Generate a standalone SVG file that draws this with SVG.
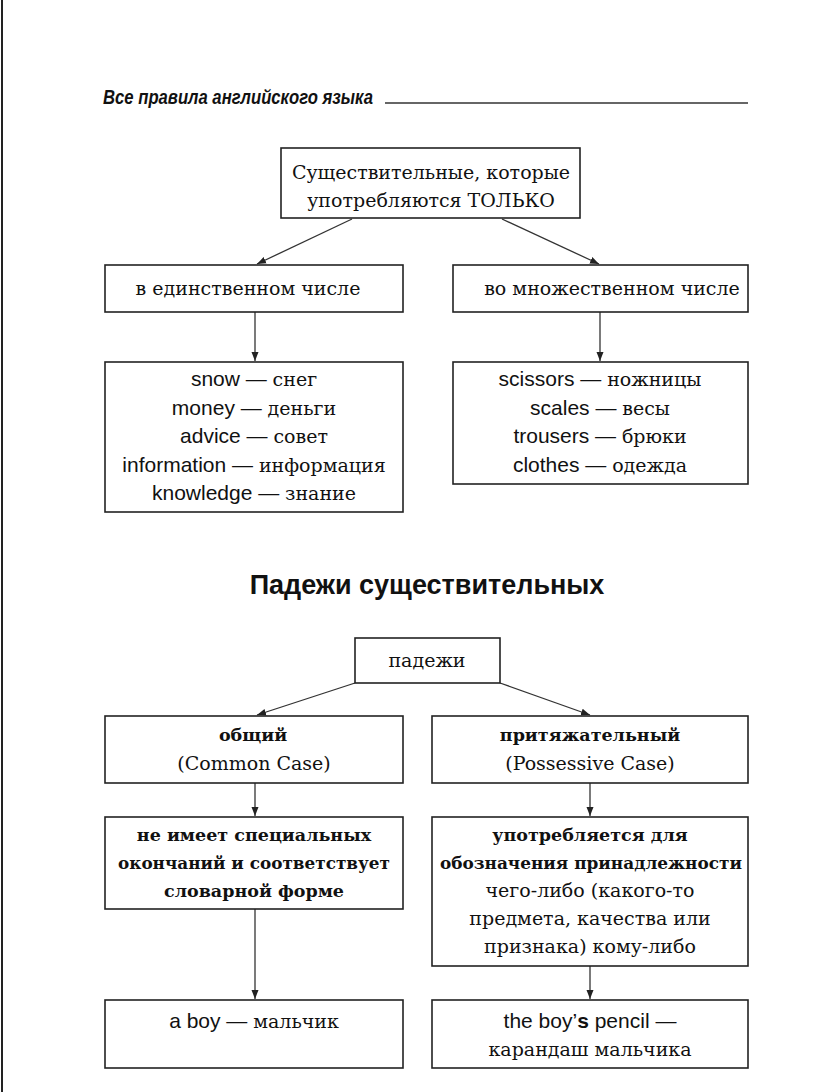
<svg xmlns="http://www.w3.org/2000/svg" width="816" height="1092" viewBox="0 0 816 1092">
<style>
.box{fill:#fff;stroke:#222;stroke-width:1.6}
.c{stroke:#333;stroke-width:1.3;fill:none}
text{fill:#111;text-anchor:middle}
.sr{font-family:"DejaVu Serif","Liberation Serif",serif;font-size:19px}
.b{font-weight:bold;font-size:17.5px}
.sa{font-family:"Liberation Sans","Arial",sans-serif;font-size:21px}
.sab{font-family:"Liberation Sans","Arial",sans-serif;font-size:21px;font-weight:bold}
</style>
<defs>
<marker id="ah" markerWidth="10" markerHeight="10" refX="9" refY="5" orient="auto" markerUnits="userSpaceOnUse">
<path d="M0,1.5 L9,5 L0,8.5 Z" fill="#222"/>
</marker>
</defs>
<rect width="816" height="1092" fill="#fff"/>
<line x1="2" y1="0" x2="2" y2="1092" stroke="#222" stroke-width="2"/>
<g id="header">
<text x="103" y="104" style="text-anchor:start;font-family:'Liberation Sans',sans-serif;font-weight:bold;font-style:italic;font-size:21px" textLength="270" lengthAdjust="spacingAndGlyphs">Все правила английского языка</text>
<line x1="385" y1="103" x2="748" y2="103" stroke="#333" stroke-width="1.6"/>
</g>
<g id="connectors">
<line class="c" x1="352" y1="219" x2="257" y2="264" marker-end="url(#ah)"/>
<line class="c" x1="502" y1="219" x2="599" y2="264" marker-end="url(#ah)"/>
<line class="c" x1="255" y1="312" x2="255" y2="361" marker-end="url(#ah)"/>
<line class="c" x1="600" y1="312" x2="600" y2="361" marker-end="url(#ah)"/>
<line class="c" x1="355" y1="683" x2="257" y2="715" marker-end="url(#ah)"/>
<line class="c" x1="500" y1="683" x2="590" y2="715" marker-end="url(#ah)"/>
<line class="c" x1="255" y1="783" x2="255" y2="816" marker-end="url(#ah)"/>
<line class="c" x1="590" y1="783" x2="590" y2="816" marker-end="url(#ah)"/>
<line class="c" x1="255" y1="909" x2="255" y2="999" marker-end="url(#ah)"/>
<line class="c" x1="590" y1="966" x2="590" y2="999" marker-end="url(#ah)"/>
</g>
<g id="n-top">
<rect class="box" x="281" y="148" width="299" height="70"/>
<text class="sr" x="431" y="179">Существительные, которые</text>
<text class="sr" x="431" y="207">употребляются ТОЛЬКО</text>
</g>
<g id="n-sing">
<rect class="box" x="105" y="265" width="298" height="47"/>
<text class="sr" x="248" y="295">в единственном числе</text>
</g>
<g id="n-plur">
<rect class="box" x="453" y="265" width="295" height="47"/>
<text class="sr" x="612" y="295">во множественном числе</text>
</g>
<g id="n-sing-list">
<rect class="box" x="105" y="362" width="298" height="150"/>
<text x="254" y="386"><tspan class="sa">snow — </tspan><tspan class="sr">снег</tspan></text>
<text x="254" y="415"><tspan class="sa">money — </tspan><tspan class="sr">деньги</tspan></text>
<text x="254" y="443"><tspan class="sa">advice — </tspan><tspan class="sr">совет</tspan></text>
<text x="254" y="472"><tspan class="sa">information — </tspan><tspan class="sr">информация</tspan></text>
<text x="254" y="500"><tspan class="sa">knowledge — </tspan><tspan class="sr">знание</tspan></text>
</g>
<g id="n-plur-list">
<rect class="box" x="453" y="362" width="295" height="122"/>
<text x="600" y="386"><tspan class="sa">scissors — </tspan><tspan class="sr">ножницы</tspan></text>
<text x="600" y="415"><tspan class="sa">scales — </tspan><tspan class="sr">весы</tspan></text>
<text x="600" y="443"><tspan class="sa">trousers — </tspan><tspan class="sr">брюки</tspan></text>
<text x="600" y="472"><tspan class="sa">clothes — </tspan><tspan class="sr">одежда</tspan></text>
</g>
<text x="427" y="594" style="font-family:'Liberation Sans',sans-serif;font-weight:bold;font-size:27px">Падежи существительных</text>
<g id="n-cases">
<rect class="box" x="355" y="638" width="145" height="45"/>
<text class="sr" x="427" y="667">падежи</text>
</g>
<g id="n-common">
<rect class="box" x="105" y="716" width="298" height="67"/>
<text class="sr b" x="253" y="741">общий</text>
<text class="sr" x="254" y="770">(Common Case)</text>
</g>
<g id="n-poss">
<rect class="box" x="432" y="716" width="316" height="67"/>
<text class="sr b" x="590" y="741">притяжательный</text>
<text class="sr" x="590" y="770">(Possessive Case)</text>
</g>
<g id="n-common-desc">
<rect class="box" x="105" y="817" width="298" height="92"/>
<text class="sr b" x="254" y="841">не имеет специальных</text>
<text class="sr b" x="254" y="869" textLength="272" lengthAdjust="spacingAndGlyphs">окончаний и соответствует</text>
<text class="sr b" x="254" y="897">словарной форме</text>
</g>
<g id="n-poss-desc">
<rect class="box" x="432" y="817" width="316" height="149"/>
<text class="sr b" x="590" y="841">употребляется для</text>
<text class="sr b" x="591" y="869" textLength="302" lengthAdjust="spacingAndGlyphs">обозначения принадлежности</text>
<text class="sr" x="590" y="897">чего-либо (какого-то</text>
<text class="sr" x="590" y="925">предмета, качества или</text>
<text class="sr" x="590" y="953">признака) кому-либо</text>
</g>
<g id="n-common-ex">
<rect class="box" x="105" y="1000" width="298" height="68"/>
<text x="254" y="1028"><tspan class="sa">a boy — </tspan><tspan class="sr">мальчик</tspan></text>
</g>
<g id="n-poss-ex">
<rect class="box" x="432" y="1000" width="316" height="68"/>
<text x="590" y="1028"><tspan class="sa">the boy’</tspan><tspan class="sab">s</tspan><tspan class="sa"> pencil —</tspan></text>
<text class="sr" x="590" y="1056">карандаш мальчика</text>
</g>
</svg>
